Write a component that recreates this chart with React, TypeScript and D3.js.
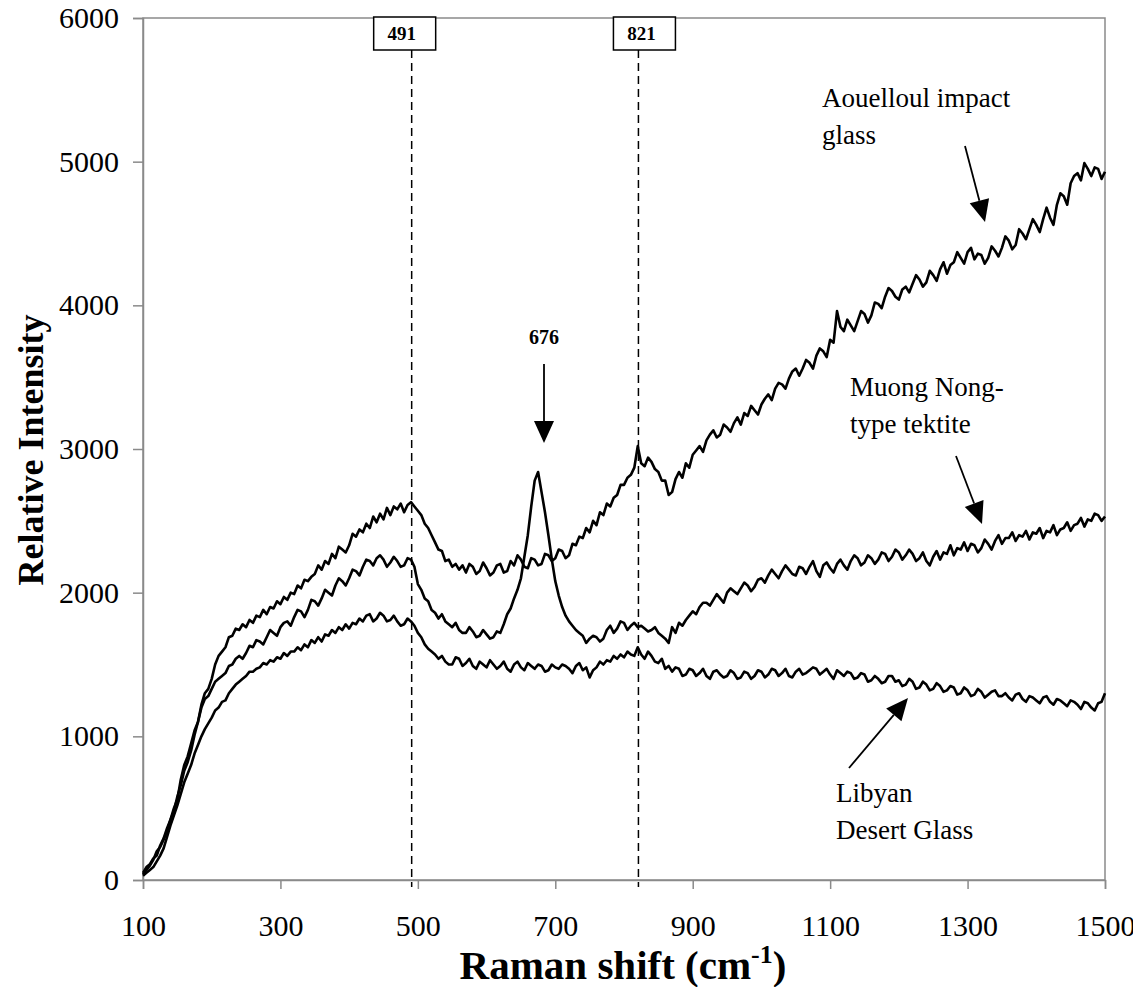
import { useEffect, useRef } from 'react'
import * as d3 from 'd3'

// Raman shift, cm-1 (step 5)
const shifts: number[] = d3.range(100, 1501, 5)

const aouelloul = [
  50, 90, 110, 150, 170, 240, 290, 360, 420, 500, 560, 700, 800, 860, 950, 1040, 1100, 1220, 1300, 1330,
  1400, 1500, 1560, 1590, 1620, 1690, 1700, 1750, 1740, 1780, 1760, 1810, 1790, 1840, 1830, 1880, 1850, 1900, 1890, 1940,
  1920, 1970, 1950, 2000, 1990, 2050, 2030, 2090, 2080, 2110, 2130, 2190, 2160, 2220, 2200, 2270, 2240, 2320, 2300, 2280,
  2330, 2410, 2390, 2440, 2420, 2480, 2450, 2530, 2490, 2550, 2510, 2590, 2540, 2600, 2580, 2620, 2560, 2610, 2630, 2600,
  2570, 2540, 2480, 2450, 2400, 2350, 2300, 2290, 2220, 2230, 2180, 2200, 2160, 2190, 2140, 2200, 2180, 2130, 2150, 2210,
  2170, 2120, 2140, 2190, 2200, 2140, 2150, 2220, 2190, 2260, 2230, 2180, 2170, 2240, 2230, 2190, 2200, 2270, 2260, 2220,
  2240, 2300, 2290, 2240, 2260, 2340, 2330, 2390, 2380, 2450, 2420, 2500, 2470, 2560, 2540, 2620, 2600, 2660, 2680, 2750,
  2750, 2800, 2820, 2870, 3020, 2900, 2880, 2940, 2910, 2860, 2840, 2780, 2780, 2680, 2700, 2790, 2840, 2800, 2900, 2870,
  2960, 2990, 3020, 2980, 3060, 3100, 3130, 3080, 3100, 3170, 3150, 3120, 3180, 3220, 3170, 3250, 3230, 3300, 3270, 3240,
  3310, 3350, 3380, 3340, 3420, 3460, 3450, 3420, 3490, 3540, 3560, 3510, 3560, 3620, 3600, 3560, 3650, 3700, 3680, 3640,
  3760, 3740, 3960, 3850, 3820, 3900, 3860, 3820, 3890, 3960, 3940, 3880, 3930, 4020, 4010, 3980, 4060, 4120, 4100, 4060,
  4040, 4110, 4130, 4090, 4150, 4210, 4180, 4130, 4160, 4240, 4210, 4170, 4250, 4300, 4220, 4280, 4300, 4370, 4330, 4290,
  4370, 4400, 4320, 4360, 4350, 4290, 4330, 4410, 4380, 4340, 4400, 4480, 4450, 4390, 4420, 4530, 4500, 4460, 4530, 4600,
  4560, 4510, 4600, 4680, 4610, 4560, 4700, 4780, 4760, 4700, 4850, 4900, 4920, 4870, 4990, 4950, 4900, 4960, 4950, 4880,
  4930,
]

const muongNong = [
  40, 70, 100, 140, 200, 230, 280, 340, 420, 480, 580, 660, 760, 820, 900, 1010, 1100, 1200, 1260, 1280,
  1330, 1380, 1400, 1420, 1440, 1490, 1500, 1540, 1560, 1540, 1580, 1630, 1620, 1670, 1660, 1640, 1690, 1740, 1720, 1700,
  1760, 1790, 1800, 1770, 1830, 1880, 1870, 1830, 1880, 1950, 1940, 1910, 1960, 2020, 2000, 1980, 2050, 2100, 2080, 2050,
  2100, 2160, 2150, 2120, 2180, 2230, 2220, 2190, 2240, 2260, 2230, 2180, 2210, 2250, 2220, 2180, 2190, 2240, 2230, 2180,
  2060, 2020, 1960, 1940, 1880, 1860, 1820, 1850, 1800, 1780, 1760, 1790, 1740, 1720, 1720, 1760, 1730, 1690, 1700, 1740,
  1710, 1680, 1690, 1730, 1720, 1780, 1850, 1890, 1960, 2020, 2100, 2250, 2400, 2600, 2780, 2840, 2700, 2560, 2400, 2230,
  2080, 1980, 1900, 1840, 1800, 1770, 1740, 1720, 1700, 1650, 1680, 1700, 1690, 1660, 1680, 1740, 1770, 1720, 1750, 1800,
  1790, 1740, 1770, 1790, 1760, 1770, 1750, 1730, 1740, 1760, 1720, 1700, 1680, 1650, 1760, 1720, 1790, 1770, 1810, 1840,
  1870, 1850, 1900, 1930, 1930, 1910, 1950, 1990, 1960, 1930, 2000, 2030, 2010, 1990, 2030, 2070, 2050, 2010, 2040, 2090,
  2100, 2070, 2120, 2160, 2130, 2100, 2150, 2190, 2160, 2130, 2120, 2180, 2170, 2130, 2180, 2220, 2150, 2110, 2190, 2210,
  2170, 2140, 2200, 2230, 2190, 2160, 2220, 2260, 2240, 2190, 2210, 2260, 2240, 2200, 2230, 2280, 2270, 2220, 2250, 2300,
  2280, 2230, 2260, 2300, 2270, 2220, 2240, 2280, 2220, 2190, 2250, 2290, 2230, 2280, 2270, 2330, 2260, 2310, 2300, 2350,
  2290, 2340, 2330, 2280, 2310, 2370, 2340, 2300, 2360, 2400, 2340, 2380, 2380, 2420, 2360, 2400, 2390, 2430, 2370, 2420,
  2410, 2450, 2380, 2430, 2420, 2470, 2400, 2440, 2450, 2490, 2430, 2470, 2480, 2520, 2460, 2510, 2500, 2550, 2540, 2500,
  2530,
]

const libyan = [
  30, 50, 70, 90, 130, 170, 220, 300, 380, 450, 520, 600, 680, 740, 800, 880, 940, 1000, 1050, 1090,
  1130, 1180, 1200, 1240, 1250, 1300, 1330, 1360, 1380, 1400, 1420, 1450, 1450, 1470, 1480, 1510, 1500, 1530, 1520, 1550,
  1540, 1580, 1560, 1590, 1590, 1620, 1600, 1640, 1620, 1670, 1650, 1690, 1660, 1710, 1700, 1740, 1720, 1760, 1740, 1780,
  1750, 1790, 1780, 1820, 1800, 1840, 1850, 1800, 1820, 1860, 1840, 1800, 1810, 1840, 1800, 1770, 1780, 1820, 1800, 1770,
  1720, 1690, 1640, 1610, 1590, 1570, 1540, 1560, 1520, 1500, 1500, 1550, 1540, 1490, 1510, 1540, 1490, 1470, 1520, 1500,
  1480, 1530, 1500, 1470, 1490, 1520, 1470, 1450, 1500, 1520, 1480, 1460, 1510, 1490, 1470, 1500, 1490, 1450, 1460, 1500,
  1480, 1470, 1500, 1490, 1470, 1440, 1490, 1510, 1460, 1480, 1410, 1460, 1480, 1520, 1500, 1530, 1520, 1560, 1540, 1570,
  1550, 1590, 1570, 1560, 1620, 1570, 1540, 1590, 1560, 1520, 1510, 1540, 1470, 1490, 1450, 1480, 1470, 1420, 1430, 1470,
  1460, 1420, 1440, 1470, 1420, 1400, 1450, 1460, 1430, 1410, 1420, 1460, 1440, 1400, 1410, 1450, 1440, 1400, 1420, 1460,
  1450, 1410, 1430, 1470, 1460, 1420, 1440, 1470, 1420, 1410, 1450, 1470, 1430, 1440, 1460, 1480, 1470, 1430, 1450, 1470,
  1430, 1400, 1460, 1440, 1420, 1450, 1440, 1400, 1410, 1440, 1430, 1380, 1390, 1420, 1400, 1370, 1380, 1420, 1420, 1380,
  1390, 1350, 1360, 1400, 1380, 1330, 1340, 1380, 1360, 1320, 1330, 1370, 1350, 1310, 1320, 1350, 1340, 1290, 1300, 1340,
  1320, 1280, 1290, 1330, 1310, 1270, 1290, 1310, 1320, 1280, 1280, 1300, 1270, 1250, 1290, 1300, 1260, 1240, 1280, 1270,
  1250, 1230, 1270, 1280, 1240, 1220, 1260, 1250, 1230, 1210, 1250, 1240, 1220, 1190, 1240, 1230, 1200, 1180, 1230, 1240,
  1300,
]

const seriesList = [aouelloul, muongNong, libyan]

const xTicks = [100, 300, 500, 700, 900, 1100, 1300, 1500]
const yTicks = [0, 1000, 2000, 3000, 4000, 5000, 6000]
const markers = [491, 821]

const FONT = '"Liberation Serif", "Times New Roman", serif'

export default function App() {
  const svgRef = useRef<SVGSVGElement | null>(null)

  useEffect(() => {
    if (!svgRef.current) return
    const svg = d3.select(svgRef.current)
    svg.selectAll('*').remove()

    const W = 1141, H = 995
    const m = { top: 18, right: 36, bottom: 115, left: 143 }
    const iW = W - m.left - m.right
    const iH = H - m.top - m.bottom

    svg.attr('width', W).attr('height', H)
    const g = svg.append('g').attr('transform', `translate(${m.left},${m.top})`)

    const x = d3.scaleLinear().domain([100, 1500]).range([0, iW])
    const y = d3.scaleLinear().domain([0, 6000]).range([iH, 0])

    // frame
    g.append('rect').attr('x', 0).attr('y', 0).attr('width', iW).attr('height', iH)
      .attr('fill', 'none').attr('stroke', '#8a8a8a').attr('stroke-width', 1.5)

    // y axis
    g.append('g')
      .call(d3.axisLeft(y).tickValues(yTicks).tickSize(10).tickPadding(14).tickFormat(d3.format('d')))
      .call(ax => {
        ax.select('.domain').attr('stroke', '#8a8a8a').attr('stroke-width', 1.5)
        ax.selectAll('line').attr('stroke', '#8a8a8a').attr('stroke-width', 1.5)
        ax.selectAll('text').attr('fill', '#000').attr('font-size', 30).attr('font-family', FONT)
      })

    // x axis
    g.append('g').attr('transform', `translate(0,${iH})`)
      .call(d3.axisBottom(x).tickValues(xTicks).tickSize(9).tickPadding(26).tickFormat(d3.format('d')))
      .call(ax => {
        ax.select('.domain').attr('stroke', '#8a8a8a').attr('stroke-width', 1.5)
        ax.selectAll('line').attr('stroke', '#8a8a8a').attr('stroke-width', 1.5)
        ax.selectAll('text').attr('fill', '#000').attr('font-size', 30).attr('font-family', FONT)
      })

    // dashed markers with boxed labels
    markers.forEach(v => {
      const px = x(v)
      g.append('line').attr('x1', px).attr('x2', px).attr('y1', 32).attr('y2', iH + 7)
        .attr('stroke', '#000').attr('stroke-width', 1.5).attr('stroke-dasharray', '8,5')
      const bx = px - 38 + (v === 821 ? 13 : 0)
      g.append('rect').attr('x', bx).attr('y', -1).attr('width', 62).attr('height', 33)
        .attr('fill', '#fff').attr('stroke', '#000').attr('stroke-width', 1.5)
      g.append('text').attr('x', bx + 28).attr('y', 22).attr('text-anchor', 'middle')
        .attr('font-family', FONT).attr('font-weight', 'bold').attr('font-size', 19)
        .text(String(v))
    })

    // spectra
    const line = d3.line<number>().x((_, i) => x(shifts[i])).y(d => y(d))
    seriesList.forEach(s => {
      g.append('path').datum(s).attr('d', line).attr('fill', 'none')
        .attr('stroke', '#000').attr('stroke-width', 2.6).attr('stroke-linejoin', 'round')
    })

    // arrows
    const arrow = (x1: number, y1: number, x2: number, y2: number, w: number) => {
      const a = Math.atan2(y2 - y1, x2 - x1)
      const len = 22
      const bx = x2 - len * Math.cos(a), by = y2 - len * Math.sin(a)
      const nx = -Math.sin(a) * w / 2, ny = Math.cos(a) * w / 2
      svg.append('line').attr('x1', x1).attr('y1', y1).attr('x2', bx).attr('y2', by)
        .attr('stroke', '#000').attr('stroke-width', 1.8)
      svg.append('polygon')
        .attr('points', `${x2},${y2} ${bx + nx},${by + ny} ${bx - nx},${by - ny}`)
        .attr('fill', '#000')
    }
    arrow(544, 364, 544, 443, 20)
    arrow(965, 146, 985, 222, 20)
    arrow(956, 456, 982, 524, 20)
    arrow(849, 768, 908, 698, 20)

    const label = (lines: string[], lx: number, ly: number) => {
      lines.forEach((t, i) => {
        svg.append('text').attr('x', lx).attr('y', ly + i * 37)
          .attr('font-family', FONT).attr('font-size', 27).attr('fill', '#000').text(t)
      })
    }
    label(['Aouelloul impact', 'glass'], 822, 107)
    label(['Muong Nong-', 'type tektite'], 850, 396)
    label(['Libyan', 'Desert Glass'], 836, 802)

    svg.append('text').attr('x', 544).attr('y', 344).attr('text-anchor', 'middle')
      .attr('font-family', FONT).attr('font-weight', 'bold').attr('font-size', 20).text('676')

    // axis titles
    const xt = svg.append('text').attr('x', 623).attr('y', 979).attr('text-anchor', 'middle')
      .attr('font-family', FONT).attr('font-weight', 'bold').attr('font-size', 41)
    xt.append('tspan').text('Raman shift (cm')
    xt.append('tspan').attr('font-size', 26).attr('dy', -16).text('-1')
    xt.append('tspan').attr('dy', 16).text(')')

    svg.append('text').attr('transform', 'translate(43,450) rotate(-90)')
      .attr('text-anchor', 'middle').attr('font-family', FONT).attr('font-weight', 'bold')
      .attr('font-size', 36).text('Relative Intensity')
  }, [])

  return (
    <div style={{ margin: -8 }}>
      <svg ref={svgRef} style={{ display: 'block' }} />
    </div>
  )
}
